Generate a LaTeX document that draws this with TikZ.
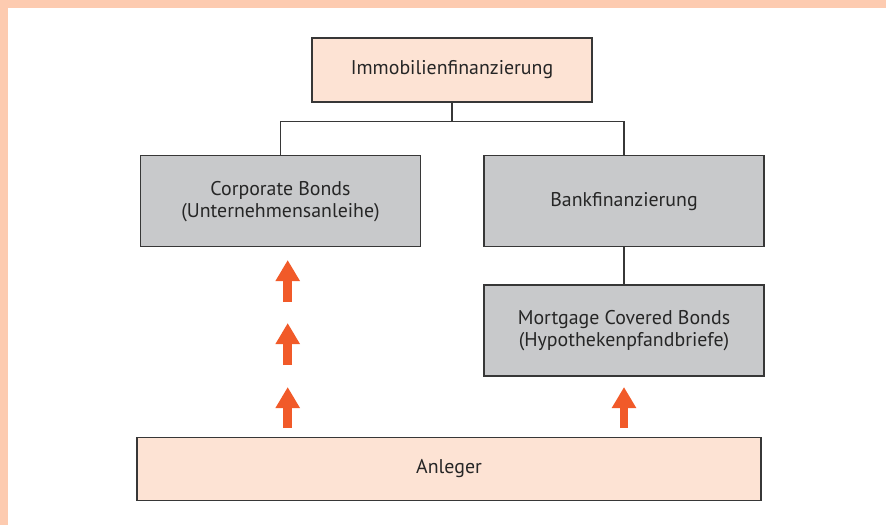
\documentclass[tikz,border=0pt]{standalone}
\usepackage{xcolor}
\usepackage{fontspec}
\setmainfont{PT Sans}
\usepackage{tikz}
\usetikzlibrary{positioning, arrows.meta}

\definecolor{framepeach}{RGB}{253, 203, 176}
\definecolor{boxpeach}{RGB}{253, 227, 212}
\definecolor{boxgray}{RGB}{200, 201, 203}
\definecolor{linegray}{RGB}{55, 55, 55}
\definecolor{arroworange}{RGB}{241, 90, 41}

\tikzset{
    finbox/.style={draw=linegray, line width=0.6pt, minimum width=5.6cm, align=center, inner sep=0pt,
        font=\fontsize{11.3}{12.6}\selectfont, text=black!85},
    peachbox/.style={finbox, fill=boxpeach},
    graybox/.style={finbox, fill=boxgray, minimum height=1.82cm},
    link/.style={draw=linegray, line width=0.6pt},
    flowarrow/.style={arroworange, line width=0.17cm, -{Triangle[length=0.42cm, width=0.46cm]}}
}

\begin{document}
\begin{tikzpicture}
    \useasboundingbox (0, 0) rectangle (17.72, 10.5);

    % Frame
    \fill[framepeach] (0, 10.34) rectangle (17.72, 10.5);
    \fill[framepeach] (0, 0) rectangle (0.16, 10.5);

    % Top
    \node[peachbox, minimum height=1.28cm] (immo) at (9.04, 9.10) {Immobilienfinanzierung};

    % Second level
    \node[graybox] (corp) at (5.61, 6.476) {Corporate Bonds\\(Unternehmensanleihe)};
    \node[graybox] (bank) at (12.48, 6.476) {Bankfinanzierung};

    % Mortgage bonds
    \node[graybox] (mort) at (12.48, 3.89) {Mortgage Covered Bonds\\(Hypothekenpfandbriefe)};

    % Investors
    \node[peachbox, minimum width=12.48cm, minimum height=1.26cm] (anleger) at (8.98, 1.12) {Anleger};

    % Tree lines
    \coordinate (split) at (9.04, 8.066);
    \draw[link] (immo.south) -- (split);
    \draw[link] (corp.north) |- (split) -| (bank.north);
    \draw[link] (bank.south) -- (mort.north);

    % Orange arrows
    \coordinate (c1) at (5.754, 1.94);
    \coordinate (c2) at (5.754, 2.76);
    \coordinate (c3) at (5.754, 3.20);
    \coordinate (c4) at (5.754, 4.04);
    \coordinate (c5) at (5.754, 4.46);
    \coordinate (c6) at (5.754, 5.30);
    \coordinate (m1) at (12.48, 1.94);
    \coordinate (m2) at (12.48, 2.76);
    \draw[flowarrow] (c1) -- (c2);
    \draw[flowarrow] (c3) -- (c4);
    \draw[flowarrow] (c5) -- (c6);
    \draw[flowarrow] (m1) -- (m2);

\end{tikzpicture}
\end{document}
